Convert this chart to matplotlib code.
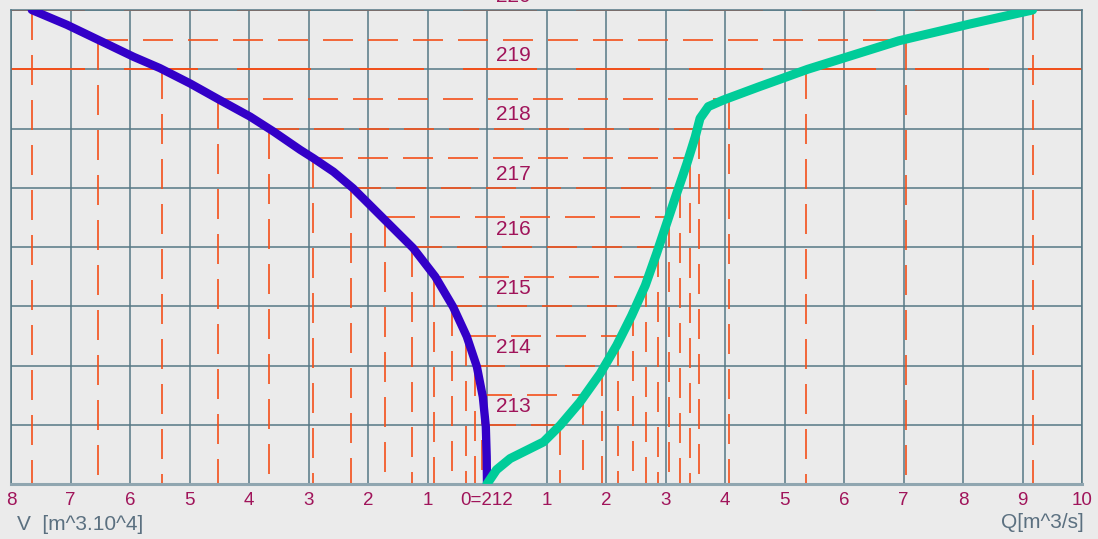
import matplotlib
matplotlib.use("Agg")
import matplotlib.pyplot as plt

# ------------------ DATA ------------------
# water levels [m] where the helper lines are drawn
levels = [220, 219.5, 219, 218.5, 218, 217.5, 217, 216.5, 216, 215.5, 215, 214.5, 214, 213.5, 213]
# volume V [m^3 x 10^4] at each level (plotted to the left)
volume = [7.65, 6.53, 5.47, 4.52, 3.66, 2.93, 2.28, 1.72, 1.26, 0.89, 0.58, 0.36, 0.20, 0.09, 0.02]
# discharge Q [m^3/s] at each level (plotted to the right)
discharge = [9.17, 7.05, 5.36, 4.06, 3.57, 3.41, 3.24, 3.06, 2.87, 2.67, 2.45, 2.21, 1.94, 1.62, 1.23]

# traced volume curve
v_curve = [7.65, 7.06, 6.50, 5.94, 5.50, 4.99, 4.49, 3.98, 3.59, 3.14, 2.92, 2.58, 2.25, 1.97,
           1.69, 1.24, 0.87, 0.57, 0.34, 0.17, 0.07, 0.02, 0.005, 0]
h_v_curve = [220.0, 219.75, 219.48, 219.21, 219.02, 218.76, 218.48, 218.20, 217.95, 217.64, 217.50,
             217.27, 216.99, 216.71, 216.43, 215.98, 215.50, 214.99, 214.49, 213.98, 213.47, 212.97,
             212.46, 212.0]

# traced discharge curve
q_curve = [0, 0.16, 0.39, 0.67, 0.95, 1.23, 1.56, 1.90, 2.18, 2.43, 2.66, 2.85, 3.02, 3.19, 3.36,
           3.50, 3.58, 3.72, 3.97, 4.56, 5.39, 6.92, 8.10, 9.17]
h_q_curve = [212.0, 212.24, 212.43, 212.57, 212.71, 212.99, 213.38, 213.86, 214.34, 214.84, 215.35,
             215.89, 216.40, 216.91, 217.41, 217.86, 218.17, 218.37, 218.48, 218.70, 219.0, 219.48,
             219.76, 220.0]

full_levels = [220, 219]          # drawn across the whole chart
level_labels = [220, 219, 218, 217, 216, 215, 214, 213]
x_ticks = list(range(-8, 11))
y_min, y_max = 212, 220

# ------------------ STYLE ------------------
BG = "#ebebeb"
GRID = "#557885"
ORANGE = "#f4501a"
LABEL = "#a0145a"
TITLE = "#5b7080"
PX = 0.72  # points per pixel at dpi 100

plt.rcParams["font.family"] = ["Liberation Sans", "DejaVu Sans"]
plt.rcParams["lines.scale_dashes"] = False

fig = plt.figure(figsize=(10.98, 5.39), dpi=100, facecolor=BG)
ax = fig.add_axes([11 / 1098, 1 - 484 / 539, 1071 / 1098, 474 / 539])
ax.set_facecolor(BG)
ax.set_xlim(x_ticks[0], x_ticks[-1])
ax.set_ylim(y_min, y_max)

# grid
ax.set_xticks(x_ticks)
ax.set_xticklabels(["0=212" if t == 0 else str(abs(t)) for t in x_ticks],
                   color=LABEL, fontsize=13.5)
ax.set_yticks(range(y_min, y_max + 1))
ax.set_yticklabels([])
ax.tick_params(length=0, pad=6)
ax.grid(True, color=GRID, lw=1.1, zorder=0)
ax.set_axisbelow(True)
for side in ["left", "right", "top"]:
    ax.spines[side].set_color(GRID)
    ax.spines[side].set_linewidth(1.1)
ax.spines["bottom"].set_color("#90a6b0")
ax.spines["bottom"].set_linewidth(2.2)

long_dash = (0, (74 * PX, 39 * PX))
short_dash = (0, (30 * PX, 15 * PX))

# helper lines for each level
for h, v, q in zip(levels, volume, discharge):
    if h in full_levels:
        ax.plot([x_ticks[0], x_ticks[-1]], [h, h], color=ORANGE, lw=1.4, ls=long_dash, zorder=2)
    else:
        ax.plot([-v, q], [h, h], color=ORANGE, lw=1.2, ls=short_dash, zorder=2)
    ax.plot([-v, -v], [h, y_min], color=ORANGE, lw=1.2, ls=short_dash, zorder=2)
    ax.plot([q, q], [h, y_min], color=ORANGE, lw=1.2, ls=short_dash, zorder=2)

# level labels
for h in level_labels:
    off = 3 if h >= 217 else 6
    ax.annotate(str(h), (0.44, h), xytext=(0, off), textcoords="offset points",
                ha="center", va="bottom", color=LABEL, fontsize=15, annotation_clip=False)

# volume curve (left) and discharge curve (right)
ax.plot([-v for v in v_curve], h_v_curve, color="#3300c8", lw=6,
        solid_capstyle="round", solid_joinstyle="round", zorder=4)
ax.plot(q_curve, h_q_curve, color="#00cc99", lw=6.5,
        solid_capstyle="round", solid_joinstyle="round", zorder=5)

fig.text(17 / 1098, 1 - 524 / 539, "V  [m^3.10^4]", color=TITLE, fontsize=15, va="center")
fig.text(1084 / 1098, 1 - 522 / 539, "Q[m^3/s]", color=TITLE, fontsize=15, va="center", ha="right")

fig.savefig("out.png", dpi=100, facecolor=BG)
